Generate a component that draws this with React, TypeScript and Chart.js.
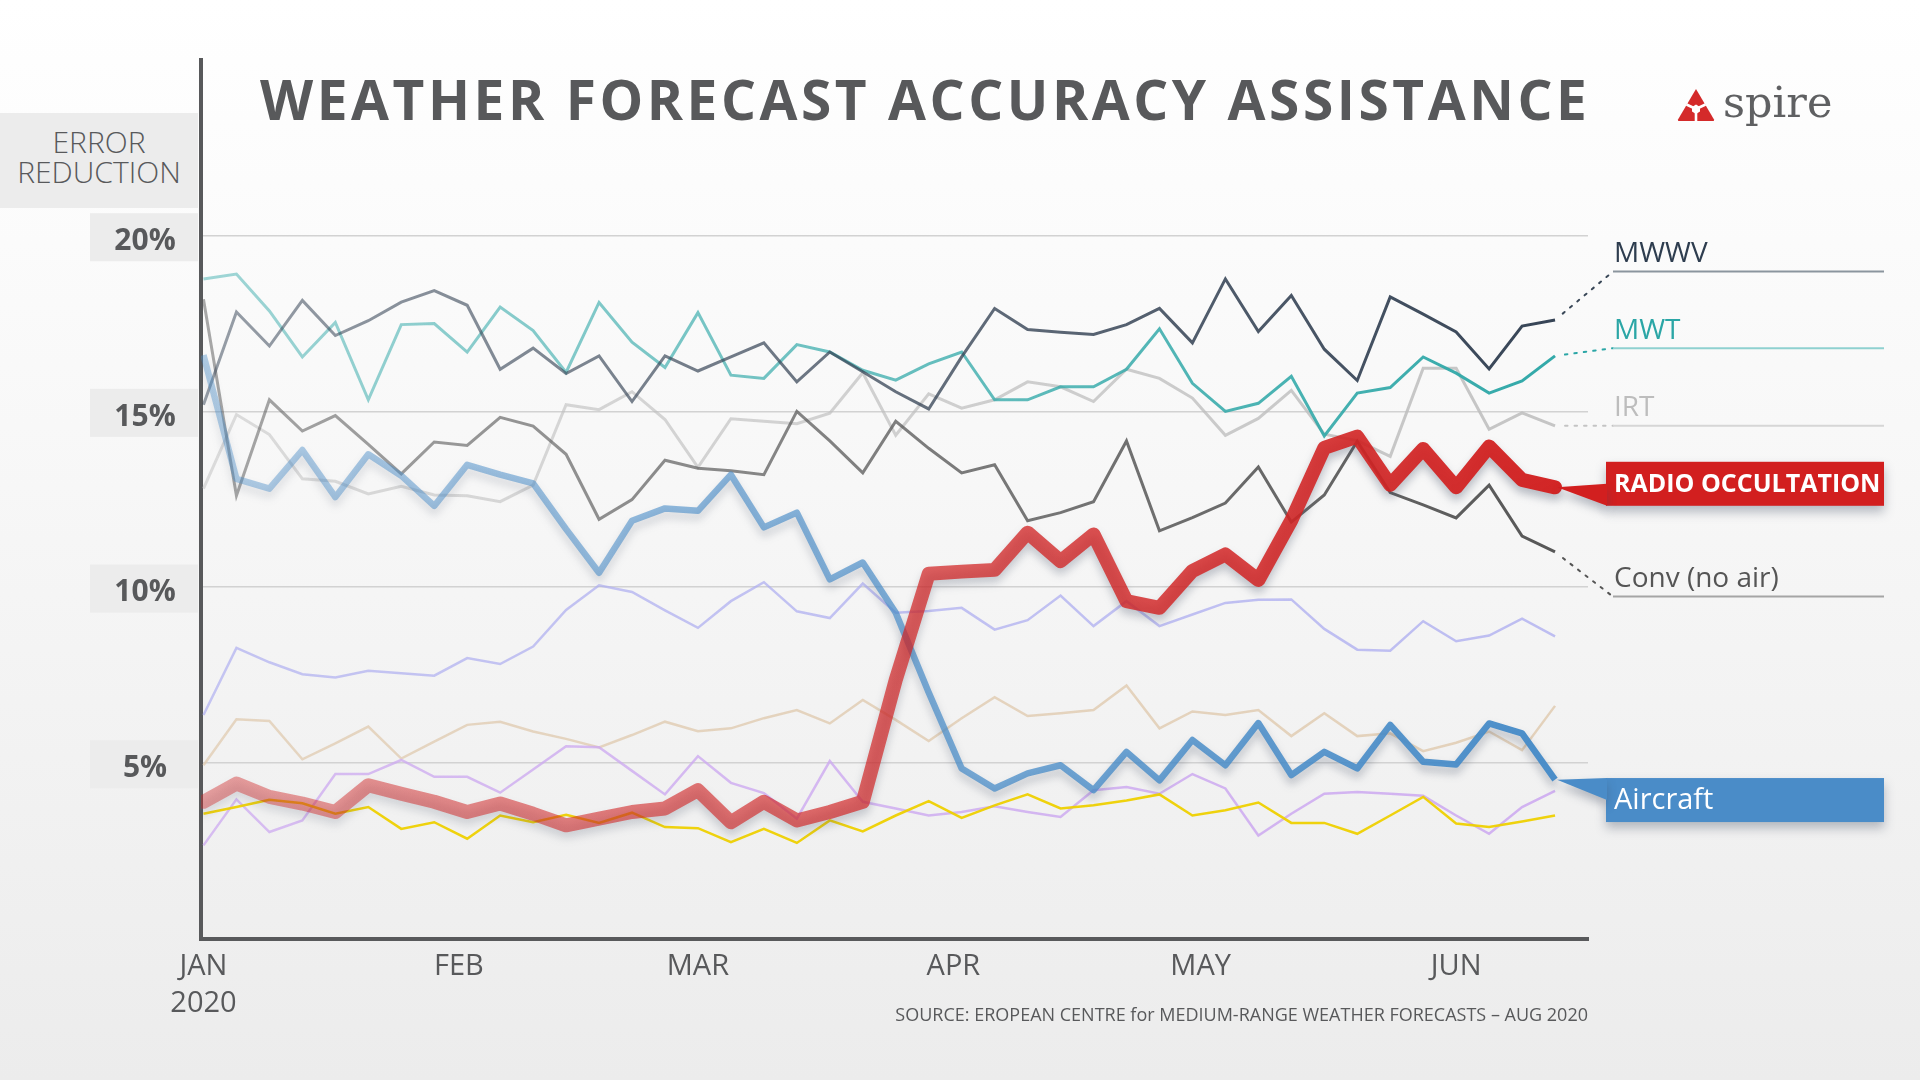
import React, { useEffect, useRef } from 'react';
import { Chart, registerables } from 'chart.js';

Chart.register(...registerables);

// sample dates, in days after 1 Jan 2020 (one reading every 4 days)
const days = [0, 4, 8, 12, 16, 20, 24, 28, 32, 36, 40, 44, 48, 52, 56, 60, 64, 68, 72, 76, 80, 84, 88, 92, 96, 100, 104, 108, 112, 116, 120, 124, 128, 132, 136, 140, 144, 148, 152, 156, 160, 164];
const monthDays = [0, 31, 60, 91, 121, 152];
const monthLabels: (string | string[])[] = [['JAN', '2020'], 'FEB', 'MAR', 'APR', 'MAY', 'JUN'];
const yTicks = [5, 10, 15, 20];

const radioOccultation = [3.89, 4.41, 4.03, 3.84, 3.6, 4.36, 4.12, 3.89, 3.6, 3.84, 3.55, 3.22, 3.41, 3.6, 3.7, 4.22, 3.31, 3.89, 3.36, 3.6, 3.89, 7.36, 10.38, 10.44, 10.49, 11.55, 10.74, 11.5, 9.6, 9.41, 10.46, 10.93, 10.2, 11.9, 13.96, 14.28, 12.91, 13.93, 12.84, 14.0, 13.05, 12.84];
const aircraft = [16.6, 13.08, 12.8, 13.9, 12.56, 13.78, 13.17, 12.31, 13.48, 13.2, 12.95, 11.65, 10.41, 11.89, 12.24, 12.17, 13.2, 11.7, 12.12, 10.22, 10.7, 9.27, 7.0, 4.84, 4.27, 4.7, 4.93, 4.22, 5.31, 4.5, 5.65, 4.93, 6.13, 4.65, 5.31, 4.84, 6.08, 5.03, 4.95, 6.12, 5.84, 4.52];
const mwwv = [15.19, 17.83, 16.86, 18.16, 17.16, 17.58, 18.11, 18.44, 18.02, 16.2, 16.8, 16.08, 16.58, 15.28, 16.58, 16.15, 16.55, 16.95, 15.84, 16.69, 16.13, 15.56, 15.07, 16.55, 17.93, 17.33, 17.25, 17.19, 17.47, 17.93, 16.95, 18.77, 17.27, 18.3, 16.77, 15.88, 18.26, 17.77, 17.26, 16.21, 17.43, 17.6];
const mwt = [18.77, 18.91, 17.86, 16.55, 17.53, 15.33, 17.47, 17.5, 16.69, 17.97, 17.3, 16.11, 18.1, 16.97, 16.25, 17.81, 16.03, 15.94, 16.9, 16.69, 16.17, 15.89, 16.35, 16.69, 15.33, 15.33, 15.7, 15.7, 16.2, 17.35, 15.8, 15.0, 15.23, 16.0, 14.3, 15.52, 15.68, 16.55, 16.09, 15.52, 15.87, 16.58];
const irt = [12.8, 14.91, 14.34, 13.08, 13.01, 12.65, 12.87, 12.62, 12.6, 12.43, 12.9, 15.19, 15.05, 15.56, 14.77, 13.41, 14.79, 14.72, 14.65, 14.95, 16.1, 14.32, 15.5, 15.09, 15.33, 15.84, 15.7, 15.28, 16.2, 15.94, 15.38, 14.32, 14.8, 15.6, 14.35, 14.17, 13.72, 16.23, 16.23, 14.49, 14.96, 14.59];
const convNoAir = [18.19, 12.6, 15.33, 14.44, 14.88, 14.06, 13.22, 14.13, 14.03, 14.83, 14.58, 13.78, 11.93, 12.49, 13.61, 13.38, 13.31, 13.2, 15.0, 14.16, 13.25, 14.72, 13.95, 13.25, 13.48, 11.89, 12.12, 12.43, 14.16, 11.6, 11.98, 12.39, 13.42, 11.85, 12.62, 14.15, 12.69, 12.34, 11.97, 12.9, 11.45, 11.0];
const periwinkle = [6.36, 8.27, 7.86, 7.52, 7.43, 7.62, 7.55, 7.48, 7.98, 7.81, 8.31, 9.35, 10.05, 9.86, 9.34, 8.84, 9.6, 10.14, 9.31, 9.12, 10.1, 9.27, 9.32, 9.41, 8.79, 9.06, 9.76, 8.89, 9.6, 8.89, 9.22, 9.55, 9.64, 9.65, 8.81, 8.22, 8.19, 9.03, 8.46, 8.62, 9.1, 8.6];
const tan = [4.93, 6.24, 6.19, 5.1, 5.55, 6.03, 5.12, 5.6, 6.08, 6.17, 5.89, 5.68, 5.44, 5.79, 6.17, 5.9, 5.98, 6.27, 6.5, 6.12, 6.79, 6.22, 5.62, 6.27, 6.87, 6.33, 6.41, 6.5, 7.2, 5.98, 6.46, 6.36, 6.5, 5.76, 6.41, 5.76, 5.84, 5.33, 5.57, 5.89, 5.36, 6.62];
const lilac = [2.65, 3.96, 3.03, 3.36, 4.68, 4.68, 5.08, 4.6, 4.6, 4.15, 4.81, 5.47, 5.44, 4.77, 4.1, 5.19, 4.43, 4.14, 3.41, 5.05, 3.89, 3.7, 3.5, 3.6, 3.76, 3.6, 3.46, 4.22, 4.31, 4.12, 4.68, 4.27, 2.93, 3.55, 4.12, 4.17, 4.12, 4.06, 3.5, 2.98, 3.74, 4.2];
const yellow = [3.55, 3.74, 3.95, 3.85, 3.55, 3.74, 3.12, 3.31, 2.84, 3.5, 3.31, 3.52, 3.29, 3.58, 3.17, 3.14, 2.74, 3.12, 2.72, 3.36, 3.05, 3.5, 3.91, 3.43, 3.79, 4.1, 3.7, 3.79, 3.93, 4.1, 3.5, 3.65, 3.87, 3.29, 3.29, 2.98, 3.5, 4.03, 3.27, 3.17, 3.33, 3.5];

// where each side label sits, in % on the value axis
const labelNames = ['MWWV', 'MWT', 'IRT', 'RADIO OCCULTATION', 'Conv (no air)', 'Aircraft'];
const labelLevels = [18.98, 16.8, 14.59, 12.94, 9.73, 3.94];

const FONT = '"Open Sans", "DejaVu Sans", sans-serif';

// line colour fading in from left to right
function fade(rgb: string, a0: number, a1: number) {
  return (c: any) => {
    const area = c.chart.chartArea;
    if (!area) return `rgba(${rgb},${a1})`;
    const g = c.chart.ctx.createLinearGradient(area.left, 0, area.right, 0);
    g.addColorStop(0, `rgba(${rgb},${a0})`);
    g.addColorStop(1, `rgba(${rgb},${a1})`);
    return g;
  };
}

const line = (data: number[], color: any, width: number, extra: any = {}) => ({
  data: data.map((v, i) => ({ x: days[i], y: v })),
  borderColor: color,
  borderWidth: width,
  pointRadius: 0,
  tension: 0,
  fill: false,
  ...extra,
});

const shadowPlugin = {
  id: 'lineShadow',
  beforeDatasetDraw(chart: any, args: any) {
    const ds = chart.data.datasets[args.index];
    if (!ds.shadow) return;
    const ctx = chart.ctx;
    ctx.save();
    ctx.shadowColor = 'rgba(60, 72, 95, 0.35)';
    ctx.shadowBlur = 8;
    ctx.shadowOffsetY = 6;
  },
  afterDatasetDraw(chart: any, args: any) {
    const ds = chart.data.datasets[args.index];
    if (ds.shadow) chart.ctx.restore();
  },
};

// grey boxed percentage labels on the value axis
const tickBoxPlugin = {
  id: 'tickBoxes',
  afterDraw(chart: any) {
    const { ctx, chartArea, scales } = chart;
    ctx.save();
    yTicks.forEach((v) => {
      const gy = scales.y.getPixelForValue(v);
      ctx.fillStyle = '#ececec';
      ctx.fillRect(chartArea.left - 111, gy - 22.5, 108, 48);
      ctx.fillStyle = '#58595b';
      ctx.font = `bold 30px ${FONT}`;
      ctx.textAlign = 'center';
      ctx.textBaseline = 'alphabetic';
      ctx.fillText(`${v}%`, chartArea.left - 56, gy + 14.3);
    });
    ctx.restore();
  },
};

type SideLabel = {
  series: number[];
  box?: string;
  wedge?: [number, number];
  text: string;
  line?: string;
  dots?: string;
  font: string;
};

const sideLabels: SideLabel[] = [
  { series: mwwv, text: '#2e3d4f', line: '#8b959e', dots: '#3a4858', font: `28px ${FONT}` },
  { series: mwt, text: '#2ba6a6', line: '#8fd1d0', dots: '#2ba6a6', font: `28px ${FONT}` },
  { series: irt, text: '#bdbdbd', line: '#d6d6d6', dots: '#c4c4c4', font: `28px ${FONT}` },
  { series: radioOccultation, box: '#d21f1f', wedge: [0.5, 1], text: '#ffffff', font: `bold 25px ${FONT}` },
  { series: convNoAir, text: '#555555', line: '#a5a5a5', dots: '#555555', font: `28px ${FONT}` },
  { series: aircraft, box: '#4a8cc8', wedge: [0, 0.5], text: '#ffffff', font: `29px ${FONT}` },
];

const labelPlugin = {
  id: 'sideLabels',
  afterDatasetsDraw(chart: any) {
    const { ctx, chartArea, scales } = chart;
    const xs = scales.x;
    const ys = scales.y;
    const lastX = xs.getPixelForValue(days[days.length - 1]);
    const left = chartArea.right + 25;
    const right = chartArea.right + 296;
    sideLabels.forEach((lb, i) => {
      const lastY = ys.getPixelForValue(lb.series[lb.series.length - 1]);
      const ly = ys.getPixelForValue(labelLevels[i]);
      ctx.save();
      if (lb.box) {
        const bx = chartArea.right + 18;
        const bh = 44;
        const top = ly - bh / 2;
        ctx.shadowColor = 'rgba(60, 72, 95, 0.35)';
        ctx.shadowBlur = 10;
        ctx.shadowOffsetY = 6;
        ctx.fillStyle = lb.box;
        ctx.fillRect(bx, top, right - bx, bh);
        ctx.beginPath();
        ctx.moveTo(lastX + 2, lastY);
        ctx.lineTo(bx + 1, top + bh * lb.wedge![0]);
        ctx.lineTo(bx + 1, top + bh * lb.wedge![1]);
        ctx.closePath();
        ctx.fill();
        ctx.shadowColor = 'transparent';
        ctx.fillStyle = lb.text;
        ctx.font = lb.font;
        ctx.textBaseline = 'middle';
        ctx.fillText(labelNames[i], chartArea.right + 26, ly + 1);
      } else {
        const dx = left - lastX;
        const dy = ly - lastY;
        const len = Math.hypot(dx, dy);
        ctx.setLineDash([2.5, 7]);
        ctx.lineCap = 'round';
        ctx.strokeStyle = lb.dots;
        ctx.lineWidth = 2;
        ctx.beginPath();
        ctx.moveTo(lastX + (dx / len) * 10, lastY + (dy / len) * 10);
        ctx.lineTo(left, ly);
        ctx.stroke();
        ctx.setLineDash([]);
        ctx.lineCap = 'butt';
        ctx.strokeStyle = lb.line;
        ctx.beginPath();
        ctx.moveTo(left, ly);
        ctx.lineTo(right, ly);
        ctx.stroke();
        ctx.fillStyle = lb.text;
        ctx.font = lb.font;
        ctx.textBaseline = 'alphabetic';
        ctx.fillText(labelNames[i], left + 1, ly - 9.5);
      }
      ctx.restore();
    });
  },
};

const SpireIcon = () => (
  <svg width="38" height="34" viewBox="0 0 38 34" style={{ position: 'absolute', left: 1677, top: 88 }}>
    <path d="M19 1 L37 31.5 Q37.6 33 36 33 L2 33 Q0.4 33 1 31.5 Z" fill="#d42a2a" />
    <path d="M19 21 L9.5 16.5 M19 21 L28.5 16.5 M19 21 L19 34" stroke="#ffffff" strokeWidth="2.6" />
    <polygon points="19,16.5 23,19 23,23.5 19,26 15,23.5 15,19" fill="#ffffff" />
  </svg>
);

export default function App() {
  const canvasRef = useRef<HTMLCanvasElement | null>(null);

  useEffect(() => {
    if (!canvasRef.current) return;
    const chart = new Chart(canvasRef.current, {
      type: 'line',
      data: {
        datasets: [
          line(radioOccultation, fade('210,35,35', 0.4, 1), 14, { shadow: true, borderJoinStyle: 'round', borderCapStyle: 'round' }),
          line(aircraft, fade('72,140,200', 0.4, 1), 6.5, { shadow: true, borderJoinStyle: 'round' }),
          line(mwwv, fade('52,66,84', 0.5, 1), 3),
          line(mwt, fade('48,168,168', 0.45, 1), 3),
          line(convNoAir, fade('85,85,85', 0.5, 1), 3),
          line(irt, fade('190,190,190', 0.5, 0.9), 3),
          line(yellow, 'rgba(238,208,0,0.95)', 2.5),
          line(lilac, fade('205,170,240', 0.75, 0.9), 2.5),
          line(tan, fade('225,205,180', 0.8, 0.9), 2.5),
          line(periwinkle, fade('175,175,240', 0.7, 0.8), 2.5),
        ] as any,
      },
      options: {
        responsive: false,
        animation: false,
        layout: { autoPadding: false, padding: { left: 0, top: 60, right: 332, bottom: 0 } },
        plugins: { legend: { display: false }, tooltip: { enabled: false } },
        scales: {
          x: {
            type: 'linear',
            min: -0.3,
            max: 168,
            afterFit: (s: any) => { s.height = 141.5; },
            afterBuildTicks: (s: any) => { s.ticks = monthDays.map((v) => ({ value: v })); },
            grid: { display: false, drawTicks: false },
            border: { color: '#58595b', width: 4 },
            ticks: {
              autoSkip: false,
              maxRotation: 0,
              padding: 10,
              color: '#58595b',
              font: { family: FONT, size: 29, lineHeight: 1.28 },
              callback: (_v: any, i: number) => monthLabels[i],
            },
          },
          y: {
            min: 0,
            max: 25,
            afterFit: (s: any) => { s.width = 201; },
            afterBuildTicks: (s: any) => { s.ticks = yTicks.map((v) => ({ value: v })); },
            grid: { color: '#d2d2d2', lineWidth: 1.5, drawTicks: false },
            border: { color: '#58595b', width: 4 },
            ticks: { display: false },
          },
        },
      } as any,
      plugins: [shadowPlugin, tickBoxPlugin, labelPlugin],
    });
    return () => chart.destroy();
  }, []);

  return (
    <div
      style={{
        position: 'absolute',
        left: 0,
        top: 0,
        width: 1920,
        height: 1080,
        overflow: 'hidden',
        background: 'linear-gradient(180deg, #ffffff 0%, #f7f7f7 45%, #ececec 100%)',
        fontFamily: FONT,
      }}
    >
      <canvas ref={canvasRef} width={1920} height={1080} style={{ position: 'absolute', left: 0, top: 0 }} />
      <div
        style={{
          position: 'absolute',
          left: 260,
          top: 70.5,
          fontSize: 55,
          lineHeight: 1,
          fontWeight: 700,
          letterSpacing: 3.55,
          color: '#58595b',
          whiteSpace: 'nowrap',
        }}
      >
        WEATHER FORECAST ACCURACY ASSISTANCE
      </div>
      <div
        style={{
          position: 'absolute',
          left: 0,
          top: 113,
          width: 198,
          height: 95,
          boxSizing: 'border-box',
          paddingTop: 14,
          background: '#ececec',
          color: '#58595b',
          fontSize: 30,
          fontWeight: 300,
          lineHeight: '30px',
          textAlign: 'center',
        }}
      >
        ERROR
        <br />
        REDUCTION
      </div>
      <SpireIcon />
      <div
        style={{
          position: 'absolute',
          left: 1723,
          top: 80.5,
          fontFamily: '"DejaVu Serif", "Liberation Serif", serif',
          fontSize: 43,
          lineHeight: 1,
          color: '#5f6062',
        }}
      >
        spire
      </div>
      <div
        style={{
          position: 'absolute',
          right: 1920 - 1588,
          top: 1004.5,
          fontSize: 18,
          lineHeight: 1,
          color: '#58595b',
          whiteSpace: 'nowrap',
        }}
      >
        SOURCE: EROPEAN CENTRE for MEDIUM-RANGE WEATHER FORECASTS – AUG 2020
      </div>
    </div>
  );
}
